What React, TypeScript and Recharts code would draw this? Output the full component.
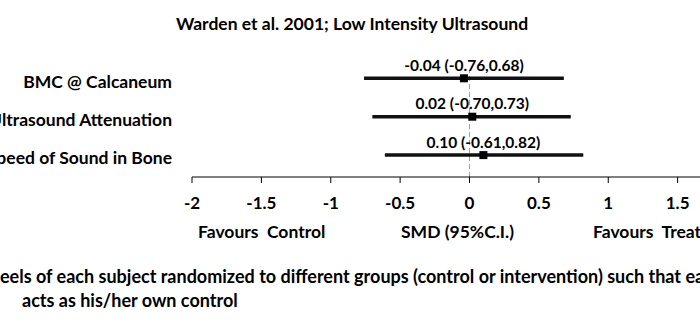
import React from "react";
import {
  ErrorBar,
  LabelList,
  ReferenceLine,
  Scatter,
  ScatterChart,
  XAxis,
  YAxis,
  ZAxis,
} from "recharts";

const outcomes = ["BMC @ Calcaneum", "Ultrasound Attenuation", "Speed of Sound in Bone"];
const smd = [-0.04, 0.02, 0.1];
const lower = [-0.76, -0.7, -0.61];
const upper = [0.68, 0.73, 0.82];
const xTicks = [-2, -1.5, -1, -0.5, 0, 0.5, 1, 1.5, 2];

const FONT = "Lato, 'Open Sans', sans-serif";

// top row gets the highest y value
const rows = outcomes.map((name, i) => ({
  name,
  x: smd[i],
  y: outcomes.length - i,
  err: [smd[i] - lower[i], upper[i] - smd[i]],
  label: `${smd[i].toFixed(2)} (${lower[i].toFixed(2)},${upper[i].toFixed(2)})`,
}));

function RowTick(props: any) {
  const { x, y, payload } = props;
  const row = rows.find((r) => r.y === payload.value);
  return (
    <text x={x} y={y + 3} dy="0.355em" textAnchor="end" fontSize={17.5} fontWeight={700} fill="#000" fontFamily={FONT}>
      {row ? row.name : ""}
    </text>
  );
}

function ValueLabel(props: any) {
  const vb = props.viewBox || props;
  const cx = vb.x + (vb.width || 0) / 2;
  return (
    <text x={cx} y={vb.y - 3} textAnchor="middle" fontSize={15.5} fontWeight={700} fill="#000" fontFamily={FONT}>
      {props.value}
    </text>
  );
}

const txt: React.CSSProperties = {
  position: "absolute",
  whiteSpace: "pre",
  fontWeight: 700,
  fontSize: 17.5,
  color: "#000",
  lineHeight: "22px",
};

export default function App() {
  return (
    <div
      style={{
        position: "fixed",
        left: 0,
        top: 0,
        width: 700,
        height: 332,
        overflow: "hidden",
        background: "#fff",
        fontFamily: FONT,
      }}
    >
      <div style={{ ...txt, left: 0, width: 704, top: 13, textAlign: "center" }}>
        Warden et al. 2001; Low Intensity Ultrasound
      </div>

      <div style={{ position: "absolute", left: 0, top: 0 }}>
        <ScatterChart width={760} height={230} margin={{ top: 71, right: 13, bottom: 13, left: 0 }}>
          <XAxis
            type="number"
            dataKey="x"
            domain={[-2, 2]}
            ticks={xTicks}
            allowDataOverflow
            height={40}
            tickSize={6}
            tickMargin={14}
            stroke="#000"
            tick={{ fill: "#000", fontSize: 17, fontWeight: 700, fontFamily: FONT }}
          />
          <YAxis
            type="number"
            dataKey="y"
            domain={[0.43, 3.19]}
            ticks={[1, 2, 3]}
            width={192}
            axisLine={false}
            tickLine={false}
            tickSize={0}
            tickMargin={20}
            tick={<RowTick />}
          />
          <ZAxis range={[110, 110]} />
          <ReferenceLine x={0} stroke="#a0a0a0" strokeDasharray="5 3" />
          <Scatter data={rows} fill="#000" shape="square" isAnimationActive={false}>
            <ErrorBar dataKey="err" direction="x" width={0} stroke="#111" strokeWidth={3.5} />
            <LabelList dataKey="label" content={<ValueLabel />} />
          </Scatter>
        </ScatterChart>
      </div>

      <div style={{ ...txt, left: 198, top: 221 }}>Favours  Control</div>
      <div style={{ ...txt, left: 401, top: 221 }}>SMD (95%C.I.)</div>
      <div style={{ ...txt, left: 593, top: 221 }}>Favours  Treatment</div>

      <div style={{ ...txt, fontSize: 18, left: 0, top: 265 }}>
        eels of each subject randomized to different groups (control or intervention) such that each
      </div>
      <div style={{ ...txt, fontSize: 18, left: 22, top: 289 }}>acts as his/her own control</div>
    </div>
  );
}
